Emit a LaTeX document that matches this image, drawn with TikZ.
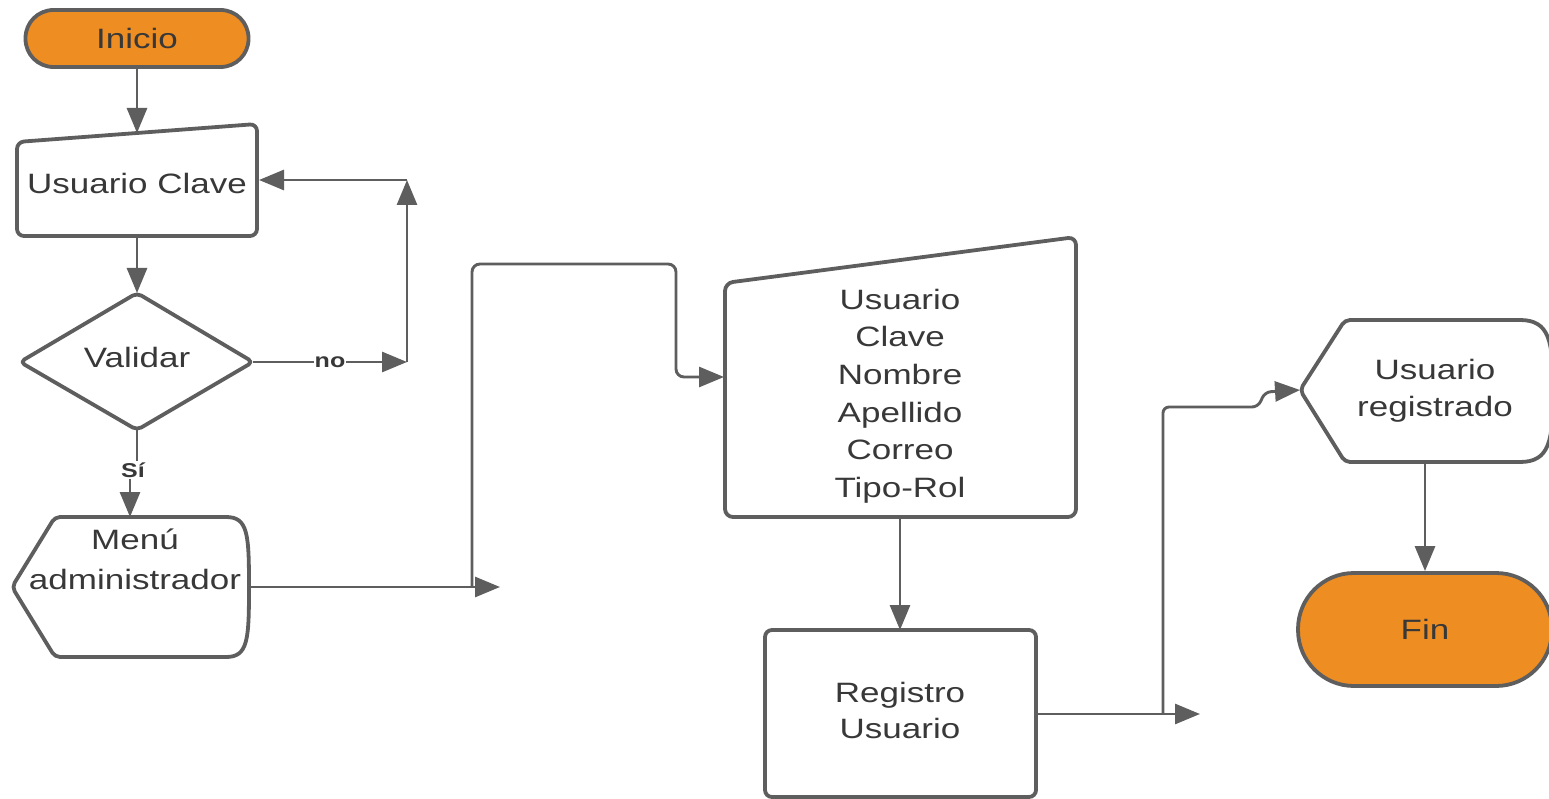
\documentclass[tikz,border=0pt]{standalone}
\usepackage{fontspec}
\setmainfont{Liberation Sans}[FakeStretch=1.25]
\usetikzlibrary{arrows.meta}
\definecolor{lnc}{HTML}{5E5E5E}
\definecolor{txc}{HTML}{383838}
\definecolor{orng}{HTML}{EE8D22}
\tikzset{
  shp/.style={draw=lnc, line width=3.8pt, line join=round},
  ln/.style={draw=lnc, line width=2.9pt},
  arr/.style={ln, -{Triangle[length=25pt,width=20pt]}},
  txt/.style={text=txc, align=center, font=\fontsize{28}{37.6}\selectfont, inner sep=0pt},
  lab/.style={text=txc, font=\bfseries\fontsize{20}{24}\selectfont, fill=white, inner sep=1pt},
  term/.style={shp, fill=orng, rounded corners=#1, text=txc, font=\fontsize{28}{34}\selectfont}
}
\begin{document}
\begin{tikzpicture}[x=1pt,y=-1pt]
\useasboundingbox (0,0) rectangle (1549,799);

% Inicio
\node[term=28pt, minimum width=223pt, minimum height=57pt] (ini) at (137,38.5) {Inicio};

% Usuario Clave (manual input)
\draw[shp, rounded corners=7pt] (137,236) -- (17,236) -- (17,142) -- (257,124) -- (257,236) -- cycle;
\node[txt] (uc) at (137,183) {Usuario Clave};
\coordinate (uctop) at (137,133);
\coordinate (ucR) at (259,180);
\coordinate (ucB) at (137,236);

% Validar (decision)
\draw[shp, rounded corners=5pt] (137,430) -- (20,362) -- (137,293) -- (253,362) -- cycle;
\node[txt] (val) at (137,357) {Validar};
\coordinate (vT) at (137,293);
\coordinate (vR) at (253,362);
\coordinate (vB) at (137,430);
\coordinate (n1) at (407,362);
\coordinate (n2) at (407,180);

% Menu administrador (display)
\draw[shp, rounded corners=5pt] (140,517) -- (55,517) -- (12,587) -- (55,657) -- (140,657) [sharp corners] -- (226,657)
  .. controls (248,657) and (249,640) .. (249,587) .. controls (249,534) and (248,517) .. (226,517) -- cycle;
\node[txt, font=\fontsize{28}{40}\selectfont] (menu) at (135,559) {Menú\\administrador};
\coordinate (mT) at (130,517);
\coordinate (mR) at (249,587);
\coordinate (m1) at (500,587);
\coordinate (m2) at (472,587);
\coordinate (m3) at (676,264);

% Big manual input
\draw[shp, rounded corners=8pt] (900,517) -- (725,517) -- (725,283) -- (1076,237) -- (1076,517) -- cycle;
\node[txt] (datos) at (900,396) {Usuario\\Clave\\Nombre\\Apellido\\Correo\\Tipo-Rol};
\coordinate (bigL) at (724,377);
\coordinate (bigB) at (900,517);

% Registro Usuario
\draw[shp, rounded corners=7pt] (900,797) -- (765,797) -- (765,630) -- (1036,630) -- (1036,797) -- cycle;
\node[txt, font=\fontsize{28}{36}\selectfont] (reg) at (900,710) {Registro\\Usuario};
\coordinate (regT) at (900,630);
\coordinate (regR) at (1036,714);
\coordinate (r1) at (1200,714);
\coordinate (r2) at (1163,714);
\coordinate (r3) at (1258,407);
\coordinate (r4) at (1265,392);

% Usuario registrado (display)
\draw[shp, rounded corners=5pt] (1435,320) -- (1345,320) -- (1300,390) -- (1345,462) -- (1435,462) [sharp corners] -- (1520,462)
  .. controls (1550,462) and (1553,440) .. (1553,391) .. controls (1553,342) and (1550,320) .. (1520,320) -- cycle;
\node[txt, font=\fontsize{28}{37}\selectfont] (ureg) at (1435,391) {Usuario\\registrado};
\coordinate (urL) at (1300,390);
\coordinate (urB) at (1425,462);

% Fin
\node[term=56pt, minimum width=254pt, minimum height=113pt] (fin) at (1425,629.5) {Fin};

% Connectors
\draw[arr] (ini.south) -- (uctop);
\draw[arr] (ucB) -- (vT);
\draw[arr] (vR) -- node[lab, pos=0.5] (no) {no} (n1);
\draw[arr] (n1) -- (n2);
\draw[arr] (n2) -- (ucR);
\node[lab] (si) at (133,470) {Sí};
\draw[ln] (vB) -- (vB |- si.north);
\draw[arr] (si.south -| mT) -- (mT);
\draw[arr] (mR) -- (m1);
\draw[arr, rounded corners=8pt] (m2) |- (m3) |- (bigL);
\draw[arr] (bigB) -- (regT);
\draw[arr] (regR) -- (r1);
\draw[arr, rounded corners=6pt] (r2) |- (r3) -- (r4) -- (urL);
\draw[arr] (urB) -- (fin.north);
\end{tikzpicture}
\end{document}
